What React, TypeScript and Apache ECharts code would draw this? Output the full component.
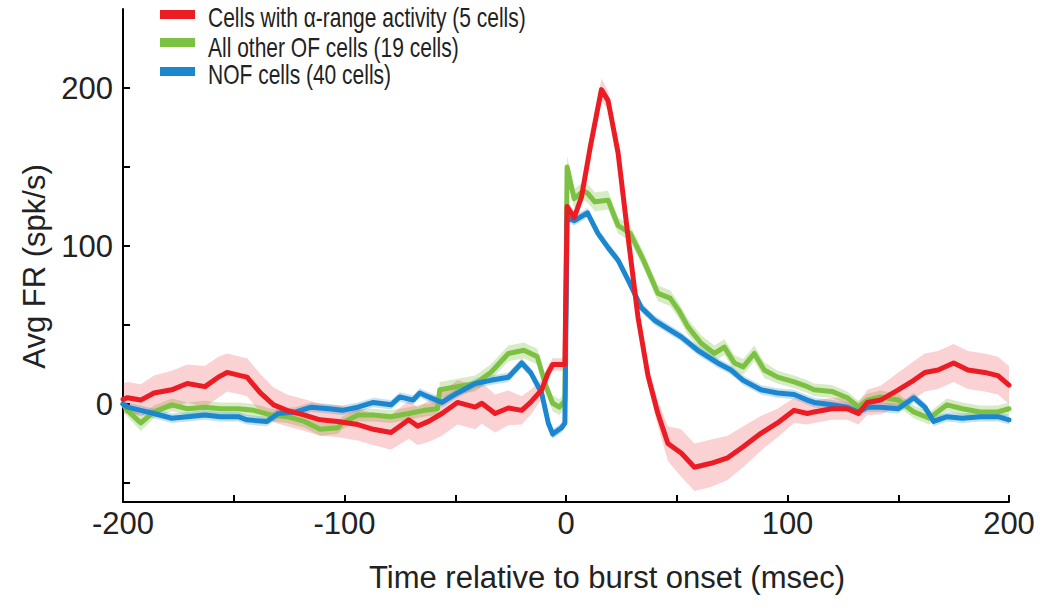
import React, { useEffect, useRef } from "react";
import * as echarts from "echarts";

const xTickValues = [-200, -150, -100, -50, 0, 50, 100, 150, 200];
const xLabelValues = [-200, -100, 0, 100, 200];
const yTickValues = [-50, 0, 50, 100, 150, 200];
const yLabelValues = [0, 100, 200];

const seriesNames = [
  "Cells with α-range activity (5 cells)",
  "All other OF cells (19 cells)",
  "NOF cells (40 cells)",
];

// [time (ms), mean firing rate (spk/s), s.e.m.]
const alphaCells: [number, number, number][] = [
  [-200, 3, 10], [-198, 4, 10], [-192, 2.5, 10], [-186, 7, 11], [-178, 9, 12], [-171, 13, 12],
  [-163, 11, 13], [-157, 17, 13], [-153, 20, 12], [-147, 18, 12], [-144, 17, 12], [-138, 7, 12],
  [-132, -0.5, 11], [-126, -4, 10], [-118, -7, 10], [-111, -10, 10], [-103, -11, 10], [-94, -13, 10],
  [-87, -16, 10], [-79, -18, 11], [-71, -10, 12], [-67, -14, 12], [-62, -11, 13], [-56, -6, 14],
  [-49, 1, 14], [-41, -2, 14], [-38, 0.5, 13], [-32, -6, 12], [-26, -2.5, 11], [-20, -4, 9],
  [-16, 1, 8], [-11, 9, 6], [-8, 20, 5], [-6, 25, 4], [-0.5, 25, 4], [0.5, 125, 4],
  [3.7, 118, 4], [7, 131, 4], [11, 163, 5], [16, 199, 7], [19, 192, 6], [23.5, 159, 5],
  [28, 106, 5], [32.5, 55, 5], [37, 18, 6], [41.5, -6, 8], [46, -25, 11], [52, -31, 15],
  [58, -40, 15], [65.5, -37.5, 15], [73, -34, 14], [80, -27, 13], [88, -18.5, 11], [95.5, -12, 9],
  [103, -4, 8], [109, -6, 7], [112, -5, 7], [120, -3, 7], [127, -3, 7], [132, -6, 7],
  [136, 1, 8], [142, 2.5, 9], [150, 9, 11], [157, 15, 12], [162, 20, 12], [168, 21.5, 12],
  [175, 26, 12], [181.5, 21.5, 12], [189, 20, 12], [195, 18, 12], [200, 12, 12],
];

const otherOfCells: [number, number, number][] = [
  [-200, 0, 4], [-198, -4, 4], [-192, -12, 5], [-186, -5, 4], [-178, -0.5, 4], [-171, -3, 4],
  [-163, -2, 4], [-156, -3, 4], [-148, -3, 4], [-141, -4, 4], [-133, -7, 4], [-126, -8, 4],
  [-118, -11, 4], [-111, -16, 4], [-103, -15, 4], [-101, -12, 4], [-94, -7, 4], [-87, -7, 4],
  [-79, -8, 4], [-71, -6, 4], [-64, -4, 4], [-58, -3, 4], [-57, 9, 5], [-49, 11, 5],
  [-41, 13, 5], [-34, 20, 5], [-26, 32, 5], [-19, 34, 5], [-13, 30, 5], [-9, 11, 5],
  [-6, 0.5, 5], [-3, -2, 5], [-0.5, 2, 5], [0.5, 150, 7], [3.7, 130, 6], [8, 135, 6],
  [10, 133, 6], [13, 128, 6], [19, 129, 6], [23.5, 113, 5], [29, 108, 5], [35, 91, 5],
  [41.5, 70, 5], [47, 67, 5], [51, 59, 5], [55, 49, 5], [61, 38.5, 5], [67, 32, 5],
  [71.5, 36, 5], [76, 26, 5], [80, 23.5, 5], [85, 32, 5], [89.5, 21.5, 5], [95.5, 17, 4],
  [103, 14, 4], [109, 11, 4], [112, 9, 4], [120, 8, 4], [127, 4, 4], [132, -2, 4],
  [136, 2.5, 4], [142, 4.5, 4], [150, 2.5, 4], [157, -5, 4], [164, -9, 4], [172, -0.5, 4],
  [179, -3, 4], [187, -5, 4], [195, -5, 4], [200, -3, 4],
];

const nofCells: [number, number, number][] = [
  [-200, 0, 3], [-198, -2, 3], [-192, -4, 3], [-186, -6, 3], [-178, -9, 3], [-171, -8, 3],
  [-163, -7, 3], [-156, -8, 3], [-148, -8, 3], [-144, -10, 3], [-135, -11, 3], [-130, -6, 3],
  [-122, -5, 3], [-115, -2, 3], [-107, -3, 3], [-101, -4, 3], [-94, -2, 3], [-87, 1, 3],
  [-79, -0.5, 3], [-75, 4.5, 3], [-69, 2.5, 3], [-66, 7, 3], [-62, 4.5, 3], [-56, 1, 3],
  [-49, 7, 3], [-41, 13, 3], [-34, 15, 3], [-26, 17, 3], [-20, 26, 3], [-16, 20, 3],
  [-11, 7, 3], [-8, -12, 3], [-6, -19, 3], [-2, -15, 3], [-0.5, -12, 3], [0.5, 118, 3],
  [3.7, 116, 3], [9.7, 121, 3], [14.4, 108, 3], [19, 99, 3], [23.5, 91, 3], [28, 78.5, 3],
  [34, 61, 3], [40, 53, 3], [44.5, 49, 3], [52, 42.5, 3], [59.5, 34, 3], [68.5, 26, 3],
  [74.5, 21.5, 3], [80, 15, 3], [88, 9, 3], [95.5, 7, 3], [103, 6, 3], [109, 2.5, 3],
  [112, 1, 3], [120, -0.5, 3], [127, -2, 3], [132, -5, 3], [136, -2, 3], [142, -2, 3],
  [150, -3, 3], [157, 4, 3], [162, -2, 3], [166, -11, 3], [172, -8, 3], [179, -9, 3],
  [187, -8, 3], [195, -8, 3], [200, -10, 3],
];

const RED = "#ec1c24";
const GREEN = "#7cc142";
const BLUE = "#1a87cf";
const FONT = '"Liberation Sans", Arial, Helvetica, sans-serif';

function bandAndLine(name: string, data: [number, number, number][], color: string, bandColor: string) {
  return [
    {
      type: "custom",
      name: name + " s.e.m.",
      silent: true,
      data: data,
      encode: { x: 0, y: 1 },
      renderItem: (params: any, api: any) => {
        if (params.dataIndex !== 0) return null;
        const upper = data.map((d) => api.coord([d[0], d[1] + d[2]]));
        const lower = data.map((d) => api.coord([d[0], d[1] - d[2]])).reverse();
        return {
          type: "polygon",
          shape: { points: upper.concat(lower) },
          style: { fill: bandColor, stroke: "none" },
        };
      },
    },
    {
      type: "line",
      name,
      data: data.map((d) => [d[0], d[1]]),
      symbol: "none",
      lineStyle: { color, width: 5, join: "round", cap: "round" },
      itemStyle: { color },
    },
  ];
}

export default function App() {
  const ref = useRef<HTMLDivElement>(null);
  useEffect(() => {
    if (!ref.current) return;
    const chart = echarts.init(ref.current, undefined, { renderer: "svg" });
    const legendColors = [RED, GREEN, BLUE];
    const legendY = [14.5, 42.5, 71.5];
    const legendTextY = [17.5, 47, 74.5];
    const legendGraphics: any[] = [];
    seriesNames.forEach((n, i) => {
      legendGraphics.push({
        type: "rect",
        shape: { x: 160, y: legendY[i] - 4.5, width: 35, height: 9 },
        style: { fill: legendColors[i] },
      });
      legendGraphics.push({
        type: "text",
        x: 208,
        y: legendTextY[i],
        scaleX: 0.75,
        style: {
          text: n,
          fontSize: 28,
          fontFamily: FONT,
          fill: "#222",
          verticalAlign: "middle",
          align: "left",
        },
      });
    });

    chart.setOption({
      animation: false,
      backgroundColor: "#fff",
      grid: { left: 123, right: 41, top: 9, bottom: 105, containLabel: false },
      xAxis: {
        type: "value",
        min: -200,
        max: 200,
        interval: 50,
        name: "Time relative to burst onset (msec)",
        nameLocation: "middle",
        nameGap: 60,
        nameTextStyle: { fontSize: 31, fontFamily: FONT, color: "#222", padding: [0, 0, 0, 82] },
        axisLine: { show: true, onZero: false, lineStyle: { color: "#000", width: 2 } },
        axisTick: { show: true, inside: true, length: 7, customValues: xTickValues, lineStyle: { color: "#000", width: 2 } },
        axisLabel: { customValues: xLabelValues, fontSize: 31, fontFamily: FONT, color: "#222", margin: 6 },
        splitLine: { show: false },
      },
      yAxis: {
        type: "value",
        min: -62,
        max: 250,
        name: "Avg FR (spk/s)",
        nameLocation: "middle",
        nameGap: 73,
        nameTextStyle: { fontSize: 31, fontFamily: FONT, color: "#222", padding: [0, 22, 0, 0] },
        axisLine: { show: true, onZero: false, lineStyle: { color: "#000", width: 2 } },
        axisTick: { show: true, inside: true, length: 7, customValues: yTickValues, lineStyle: { color: "#000", width: 2 } },
        axisLabel: { customValues: yLabelValues, fontSize: 31, fontFamily: FONT, color: "#222", margin: 10 },
        splitLine: { show: false },
      },
      graphic: legendGraphics,
      series: [
        ...bandAndLine(seriesNames[1], otherOfCells, GREEN, "rgba(124,193,66,0.3)"),
        ...bandAndLine(seriesNames[2], nofCells, BLUE, "rgba(26,135,207,0.25)"),
        ...bandAndLine(seriesNames[0], alphaCells, RED, "rgba(236,28,36,0.2)"),
      ],
    });
    return () => chart.dispose();
  }, []);
  return (
    <div
      ref={ref}
      style={{ position: "fixed", left: 0, top: 0, width: 1050, height: 607, background: "#fff" }}
    />
  );
}
